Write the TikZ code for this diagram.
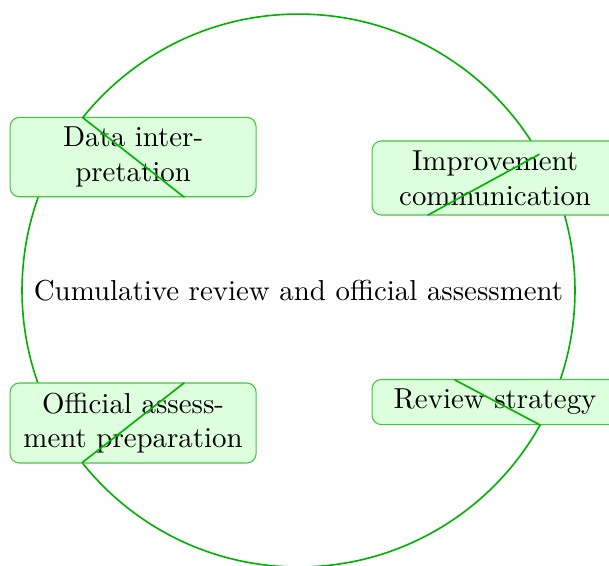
\documentclass[tikz,border=0pt]{standalone}
\usetikzlibrary{calc}
\begin{document}
\begin{tikzpicture}[line join=round,line cap=round,font=\fontsize{10.7}{12.8}\selectfont,
stage/.style={draw=green!70!black!75,fill=green!13,thin,rounded corners=1.2mm,
  text width=2.95cm,align=center,inner sep=3.6pt}]
\useasboundingbox (-3.887,-3.574) rectangle (4.043,3.783);
\def\r{3.6}
\path
(0,0) coordinate (O)
(141.3:\r) coordinate (A)
(-1.491,1.217) coordinate (A')
(29.5:\r) coordinate (B)
(1.686,0.983) coordinate (B')
(-29.1:\r) coordinate (C)
(2.038,-1.165) coordinate (C')
(-141.5:\r) coordinate (D)
(-1.491,-1.204) coordinate (D')
;
%
\draw[semithick,green!70!black] (O) circle (\r);
\node (O-text) at (O) {Cumulative review and official assessment};
\node[stage] (DI) at (-2.154,1.738) {Data interpretation};
\node[stage] (IC) at (2.56,1.465) {Improvement communication};
\node[stage] (RS) at (2.56,-1.452) {Review strategy};
\node[stage] (OA) at (-2.154,-1.725) {Official assessment preparation};
%
\foreach \p/\q in {A/A',B'/B,C'/C,D'/D}
\draw[semithick,green!70!black] (\p)--(\q);
\end{tikzpicture}
\end{document}
